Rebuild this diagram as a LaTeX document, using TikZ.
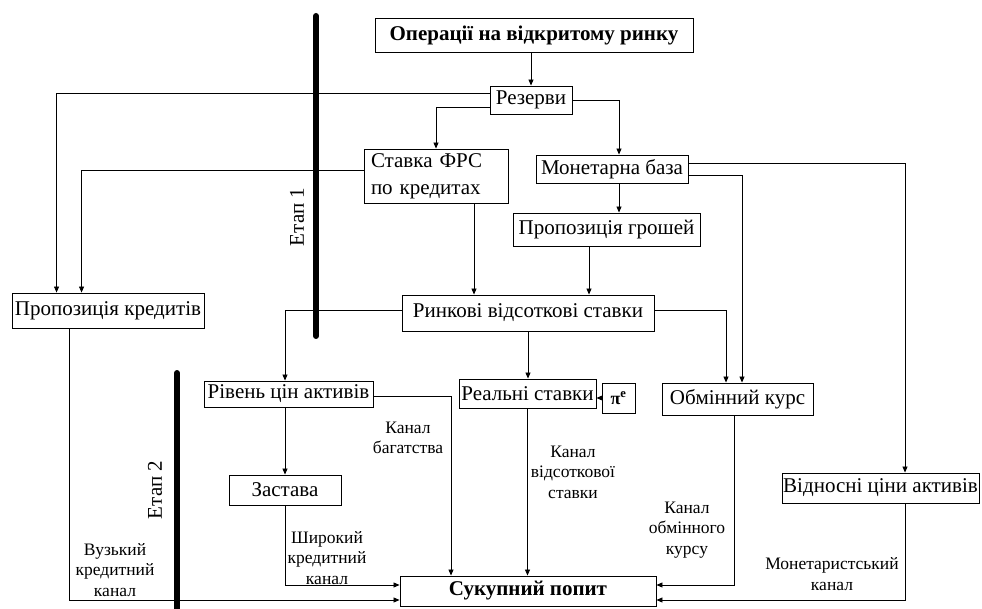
\documentclass[tikz,border=0pt]{standalone}
\usepackage{fontspec}
\setmainfont{Liberation Serif}
\usetikzlibrary{arrows.meta}
\begin{document}
\begin{tikzpicture}[x=1pt,y=-1pt,
  box/.style={draw,line width=0.9pt,inner sep=1pt,font=\fontsize{21}{26}\selectfont,anchor=center},
  lbl/.style={align=center,font=\fontsize{17.5}{20.5}\selectfont,inner sep=0pt},
  conn/.style={line width=0.8pt},
  arr/.style={conn,-{Triangle[length=6pt,width=5pt]}},
  bar/.style={line width=6pt,line cap=round},
  etap/.style={rotate=90,font=\fontsize{21}{24}\selectfont,inner sep=0pt}]
\useasboundingbox (0,0) rectangle (982,609);
\node[box,minimum width=318pt,minimum height=34pt,font=\fontsize{21}{24}\selectfont\bfseries] (top) at (534,35) {Операції на відкритому ринку};
\node[box,minimum width=82pt,minimum height=28pt] (rez) at (531,100) {Резерви};
\node[box,minimum width=144pt,minimum height=54pt,align=left,text width=130pt,inner xsep=7pt,font=\fontsize{21}{27}\selectfont] (stavka) at (436,176) {Ставка ФРС\\по кредитах};
\node[box,minimum width=152pt,minimum height=28pt] (mbase) at (612,169) {Монетарна база};
\node[box,minimum width=187pt,minimum height=33pt] (mgrosh) at (606.5,229.5) {Пропозиція грошей};
\node[box,minimum width=252pt,minimum height=36pt] (rynk) at (528,313) {Ринкові відсоткові ставки};
\node[box,minimum width=192pt,minimum height=35pt] (prkred) at (108,310.5) {Пропозиція кредитів};
\node[box,minimum width=169pt,minimum height=26pt] (riven) at (288.5,394) {Рівень цін активів};
\node[box,minimum width=112pt,minimum height=30pt] (zast) at (285,490) {Застава};
\node[box,minimum width=137pt,minimum height=29pt] (real) at (527.5,393.5) {Реальні ставки};
\node[box,minimum width=33pt,minimum height=30pt,font=\fontsize{18}{20}\selectfont\bfseries] (pie) at (618.5,398) {π\textsuperscript{e}};
\node[box,minimum width=151pt,minimum height=32pt] (obmin) at (737.5,399) {Обмінний курс};
\node[box,minimum width=197pt,minimum height=30pt] (vidn) at (880.5,488) {Відносні ціни активів};
\node[box,minimum width=256pt,minimum height=30pt,font=\fontsize{21}{24}\selectfont\bfseries] (suk) at (528,591) {Сукупний попит};
% bars
\coordinate (b1a) at (316,16); \coordinate (b1b) at (316,336);
\coordinate (b2a) at (177,373); \coordinate (b2b) at (177,615);
\draw[bar] (b1a) -- (b1b);
\draw[bar] (b2a) -- (b2b);
\node[etap] (e1) at (297,217) {Етап 1};
\node[etap] (e2) at (155,490) {Етап 2};
% connectors
\draw[arr] (rez.north |- top.south) -- (rez.north);
\draw[arr] ([yshift=7pt]rez.west) -| ([xshift=45pt]prkred.north west);
\draw[arr] ([yshift=-7pt]rez.west) -| (stavka.north);
\draw[arr] (rez.east) -| ([xshift=7pt]mbase.north);
\draw[arr] ([yshift=6pt]stavka.west) -| ([xshift=70pt]prkred.north west);
\draw[arr] ([xshift=38pt]stavka.south) -- ([xshift=38pt]stavka.south |- rynk.north);
\draw[arr] ([xshift=7pt]mbase.south) -- ([xshift=7pt]mbase.south |- mgrosh.north);
\draw[arr] ([xshift=-17.5pt]mgrosh.south) -- ([xshift=-17.5pt]mgrosh.south |- rynk.north);
\draw[arr] ([yshift=6pt]mbase.east) -| ([xshift=24.5pt]vidn.north);
\draw[arr] ([yshift=-6pt]mbase.east) -| ([xshift=4.5pt]obmin.north);
\draw[arr] ([yshift=3pt]rynk.west) -| ([xshift=-3.5pt]riven.north);
\draw[arr] (rynk.south) -- (rynk.south |- real.north);
\draw[arr] ([yshift=3pt]rynk.east) -| ([xshift=-11.5pt]obmin.north);
\draw[arr] (pie.west) -- (real.east |- pie.west);
\draw[arr] ([yshift=-2pt]riven.east) -| ([xshift=-77pt]suk.north);
\draw[arr] (zast.north |- riven.south) -- (zast.north);
\draw[arr] (zast.south) |- ([yshift=6pt]suk.west);
\draw[arr] ([xshift=-39pt]prkred.south) |- ([yshift=-9pt]suk.west);
\draw[arr] (real.south) -- (real.south |- suk.north);
\draw[arr] ([xshift=-3.5pt]obmin.south) |- ([yshift=6pt]suk.east);
\draw[arr] ([xshift=24.5pt]vidn.south) |- ([yshift=-9pt]suk.east);
% labels
\node[lbl] (l1) at (408,438) {Канал\\багатства};
\node[lbl] (l2) at (573,472) {Канал\\відсоткової\\ставки};
\node[lbl] (l3) at (687,530) {Канал\\обмінного\\курсу};
\node[lbl] (l4) at (832,574) {Монетаристський\\канал};
\node[lbl] (l5) at (327,558) {Широкий\\кредитний\\канал};
\node[lbl] (l6) at (115,570) {Вузький\\кредитний\\канал};
\end{tikzpicture}
\end{document}
